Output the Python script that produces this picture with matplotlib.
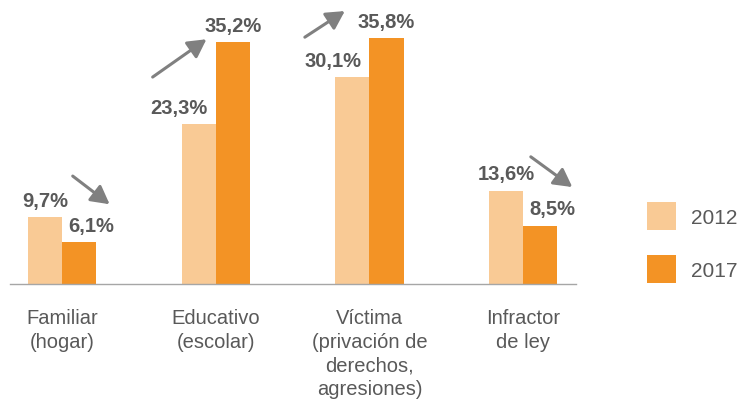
import matplotlib.pyplot as plt
import numpy as np

plt.rcParams['font.family'] = ['Liberation Sans', 'DejaVu Sans']

# Data
categories = ['Familiar\n(hogar)', 'Educativo\n(escolar)',
              'Víctima\n(privación de\nderechos,\nagresiones)', 'Infractor\nde ley']
v2012 = [9.7, 23.3, 30.1, 13.6]
v2017 = [6.1, 35.2, 35.8, 8.5]
years = ['2012', '2017']

# Label nudges (points) so labels don't collide with arrows
dx2012 = [0, -14, -14, 0]
dx2017 = [9, 0, 0, 9]

# Trend arrows (start, end) in data coords
arrows = [((0.07, 15.7), (0.31, 11.6)),
          ((0.59, 30.1), (0.94, 35.6)),
          ((1.58, 35.9), (1.84, 39.7)),
          ((3.05, 18.5), (3.32, 14.1))]

c12 = '#F9CA95'
c17 = '#F39325'
grey = '#595959'
arrow_col = '#808080'

fig = plt.figure(figsize=(7.41, 4.02), dpi=100)
ax = fig.add_axes([10/741, 117/402, 566/741, 285/402])

x = np.arange(len(categories))
w = 0.222
ax.bar(x - w/2, v2012, w, color=c12, label=years[0])
ax.bar(x + w/2, v2017, w, color=c17, label=years[1])

for xi, v, d in zip(x - w/2, v2012, dx2012):
    ax.annotate(f'{v:.1f}%'.replace('.', ','), (xi, v), xytext=(d, 8),
                textcoords='offset points', ha='center', va='baseline',
                fontsize=14.5, fontweight='bold', color=grey)
for xi, v, d in zip(x + w/2, v2017, dx2017):
    ax.annotate(f'{v:.1f}%'.replace('.', ','), (xi, v), xytext=(d, 8),
                textcoords='offset points', ha='center', va='baseline',
                fontsize=14.5, fontweight='bold', color=grey)

for s, e in arrows:
    ax.annotate('', xy=e, xytext=s,
                arrowprops=dict(arrowstyle='-|>,head_length=0.55,head_width=0.3',
                                color=arrow_col, lw=2.2,
                                mutation_scale=20, shrinkA=0, shrinkB=0))

ax.set_xlim(-0.338, 3.344)
ax.set_ylim(0, 285/6.875)
for sp in ['top', 'right', 'left']:
    ax.spines[sp].set_visible(False)
ax.spines['bottom'].set_color('#a6a6a6')
ax.spines['bottom'].set_linewidth(1)
ax.set_yticks([])
ax.set_xticks(x)
ax.set_xticklabels(categories, fontsize=14.5, color=grey, linespacing=1.33)
ax.tick_params(axis='x', length=0, pad=17)

fig.legend(loc='upper left', bbox_to_anchor=(647/741, 1 - 203/402),
           frameon=False, fontsize=15, handlelength=1.39, handleheight=1.68,
           labelspacing=1.2, handletextpad=0.72, borderpad=0, borderaxespad=0,
           labelcolor=grey)

fig.savefig('out.png', dpi=100)
